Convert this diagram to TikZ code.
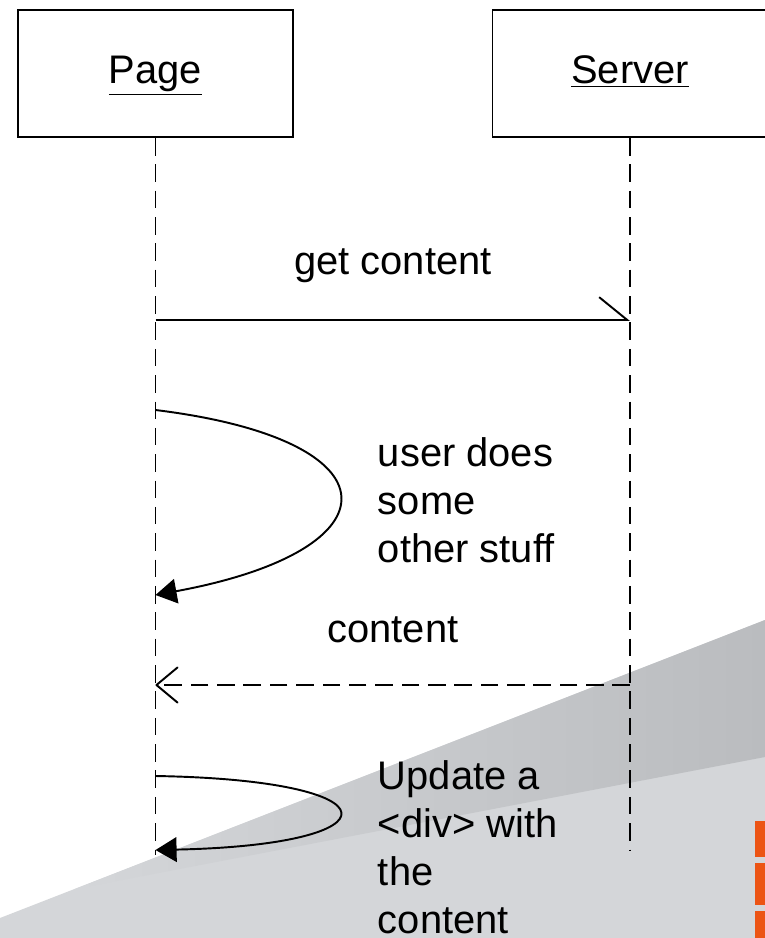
\documentclass[tikz,border=0pt]{standalone}
\usepackage{fontspec}
\setmainfont{Liberation Sans}
\usetikzlibrary{arrows.meta}
\definecolor{bglight}{RGB}{212,214,217}
\definecolor{bgdark}{RGB}{186,188,191}
\definecolor{tabred}{RGB}{236,84,20}
\begin{document}
\begin{tikzpicture}[x=0.02cm,y=-0.02cm,line width=1.1pt]
\tikzstyle{actor}=[draw,shape=rectangle,minimum width=5.5cm,minimum height=2.54cm,inner sep=0pt,text height=16pt,text depth=5pt,font=\fontsize{22.7pt}{27.2pt}\selectfont]
\tikzstyle{lifeline}=[dash pattern=on 10pt off 5pt]
\tikzstyle{note}=[anchor=north west,align=left,inner sep=0pt,font=\fontsize{22.7pt}{27.2pt}\selectfont]
\tikzstyle{msg}=[inner sep=0pt,font=\fontsize{22.7pt}{27.2pt}\selectfont]
\useasboundingbox (0,0) rectangle (765,938);
% background
\fill[bglight] (0,938) -- (0,918) -- (765,620) -- (765,938) -- cycle;
\shade[left color=bglight,right color=bgdark] (75,889) -- (765,620) -- (765,757) -- cycle;
\fill[tabred] (755,821) rectangle (767,857);
\fill[tabred] (755,863) rectangle (767,905);
\fill[tabred] (755,911) rectangle (767,940);

\path (155.5,73.5) node[actor](page){\underline{Page}} (630,73.5) node[actor](server){\underline{Server}};
\path (155.5,855) coordinate(pend) (630,850) coordinate(send);
\draw[lifeline] (page) -- (pend);
\draw[lifeline] (server) -- (send);

\path (155.5,320) coordinate(p1) (630,320) coordinate(s1);
\path (155.5,410) coordinate(p2) (155.5,595) coordinate(p3);
\path (630,685) coordinate(s4) (155.5,685) coordinate(p4);
\path (155.5,776) coordinate(p5) (155.5,850) coordinate(p6);

\path (393,266) node[msg](get){get content};
\path (393,630) node[msg](cont){content};
\path (377,437) node[note](wait){user does\\some\\other stuff};
\path (377,760) node[note](upd){Update a\\<div> with\\the\\content};

\draw[-{Straight Barb[left,length=16pt,width=26pt]}] (p1) -- (s1);
\draw[-{Triangle[length=12pt,width=14pt]}] (p2) .. controls (400,440) and (400,550) .. (p3);
\draw[lifeline,-{Straight Barb[length=12pt,width=20pt,line width=1.1pt,round=false]}] (s4) -- (p4);
\draw[-{Triangle[length=12pt,width=14pt]}] (p5) .. controls (400,780) and (400,845) .. (p6);
\end{tikzpicture}
\end{document}
